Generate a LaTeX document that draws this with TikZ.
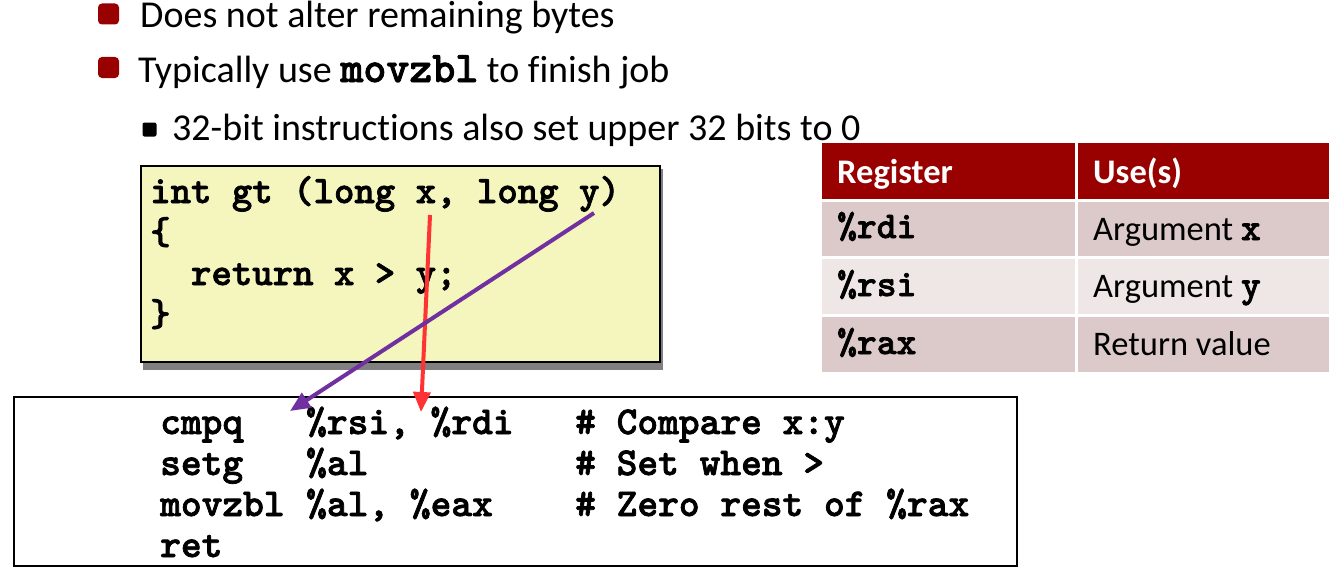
\documentclass[tikz,border=0pt]{standalone}
\usepackage{fontspec}
\setmainfont{Carlito}[Ligatures=NoCommon]
\newfontfamily\cmonofam{lmmonolt10-bold}[Extension=.otf, FakeBold=1.8]
\newcommand\cmono{\cmonofam}
\usetikzlibrary{arrows.meta}
\definecolor{bulred}{HTML}{990000}
\definecolor{hdrred}{HTML}{990000}
\definecolor{rowA}{HTML}{DCCACA}
\definecolor{rowB}{HTML}{EFE7E6}
\definecolor{codeyel}{HTML}{F5F5BE}
\definecolor{shadowgray}{HTML}{808080}
\definecolor{arrred}{HTML}{FF3333}
\definecolor{arrpurple}{HTML}{7030A0}
\begin{document}
\begin{tikzpicture}[x=1pt,y=-1pt,
  bul/.style={fill=bulred, rounded corners=4pt, minimum size=21pt, inner sep=0pt},
  subbul/.style={fill=black, rounded corners=2pt, minimum size=14pt, inner sep=0pt},
  btxt/.style={anchor=base west, inner sep=0pt, font=\fontsize{38}{46}\selectfont},
  ctxt/.style={anchor=base west, inner sep=0pt, font=\fontsize{38.9}{44}\cmono},
  atxt/.style={anchor=base west, inner sep=0pt, font=\fontsize{39.5}{44}\cmono},
  thead/.style={anchor=base west, inner sep=0pt, text=white, font=\bfseries\fontsize{34.5}{40}\selectfont},
  tcell/.style={anchor=base west, inner sep=0pt, font=\fontsize{34.5}{40}\selectfont},
  tmono/.style={anchor=base west, inner sep=0pt, font=\fontsize{37.7}{40}\cmono},
  conn/.style={line width=4pt, -{Triangle[length=20pt,width=17pt]}},
]
\useasboundingbox (0,0) rectangle (1338,578);
\fill[white] (0,0) rectangle (1338,578);

% bullets
\node[bul] (b1) at (108.5,14) {};
\node[btxt] (t1) at (140,28) {Does not alter remaining bytes};
\node[bul] (b2) at (108.5,67.5) {};
\node[btxt] (t2) at (138,82) {Typically use {\fontsize{43.8}{46}\cmono movzbl} to finish job};
\node[subbul] (b3) at (149.5,129.5) {};
\node[btxt] (t3) at (172,140) {32-bit instructions also set upper 32 bits to 0};

% C code box
\fill[shadowgray] (143,169) rectangle (663,370);
\draw[fill=codeyel, line width=2pt] (141,166) rectangle (660,362);
\node[ctxt] (c1) at (150,203) {int gt (long x, long y)};
\node[ctxt] (c2) at (150,244) {\{};
\node[ctxt] (c3) at (150,285) {\ \ return x > y;};
\node[ctxt] (c4) at (150,326) {\}};

% table
\fill[hdrred] (822,143) rectangle (1075,199);
\fill[hdrred] (1078,143) rectangle (1329,199);
\fill[rowA] (822,202) rectangle (1075,256);
\fill[rowA] (1078,202) rectangle (1329,256);
\fill[rowB] (822,259) rectangle (1075,314);
\fill[rowB] (1078,259) rectangle (1329,314);
\fill[rowA] (822,317) rectangle (1075,372);
\fill[rowA] (1078,317) rectangle (1329,372);
\node[thead] (h1) at (837,183) {Register};
\node[thead] (h2) at (1093,183) {Use(s)};
\node[tmono] (r1) at (837,238) {\%rdi};
\node[tcell] (u1) at (1093,240) {Argument {\fontsize{37.7}{40}\cmono x}};
\node[tmono] (r2) at (837,296) {\%rsi};
\node[tcell] (u2) at (1093,297) {Argument {\fontsize{37.7}{40}\cmono y}};
\node[tmono] (r3) at (837,354) {\%rax};
\node[tcell] (u3) at (1093,355) {Return value};

% assembly box
\draw[fill=white, line width=2pt] (14,397) rectangle (1017,566);
\node[atxt] (a1) at (160,434) {cmpq};
\node[atxt] (a1o) at (306,434) {\%rsi, \%rdi};
\node[atxt] (a1c) at (575,434) {\# Compare x:y};
\node[atxt] (a2) at (160,475) {setg};
\node[atxt] (a2o) at (306,475) {\%al};
\node[atxt] (a2c) at (575,475) {\# Set when >};
\node[atxt] (a3) at (160,516) {movzbl};
\node[atxt] (a3o) at (306,516) {\%al, \%eax};
\node[atxt] (a3c) at (575,516) {\# Zero rest of \%rax};
\node[atxt] (a4) at (160,557) {ret};

% arrows
\coordinate (xsrc) at (430,215);
\coordinate (xdst) at (421,412);
\coordinate (ysrc) at (594,213);
\coordinate (ydst) at (290,411);
\draw[conn, draw=arrred, fill=arrred] (xsrc) -- (xdst);
\draw[conn, draw=arrpurple, fill=arrpurple] (ysrc) -- (ydst);
\end{tikzpicture}
\end{document}
